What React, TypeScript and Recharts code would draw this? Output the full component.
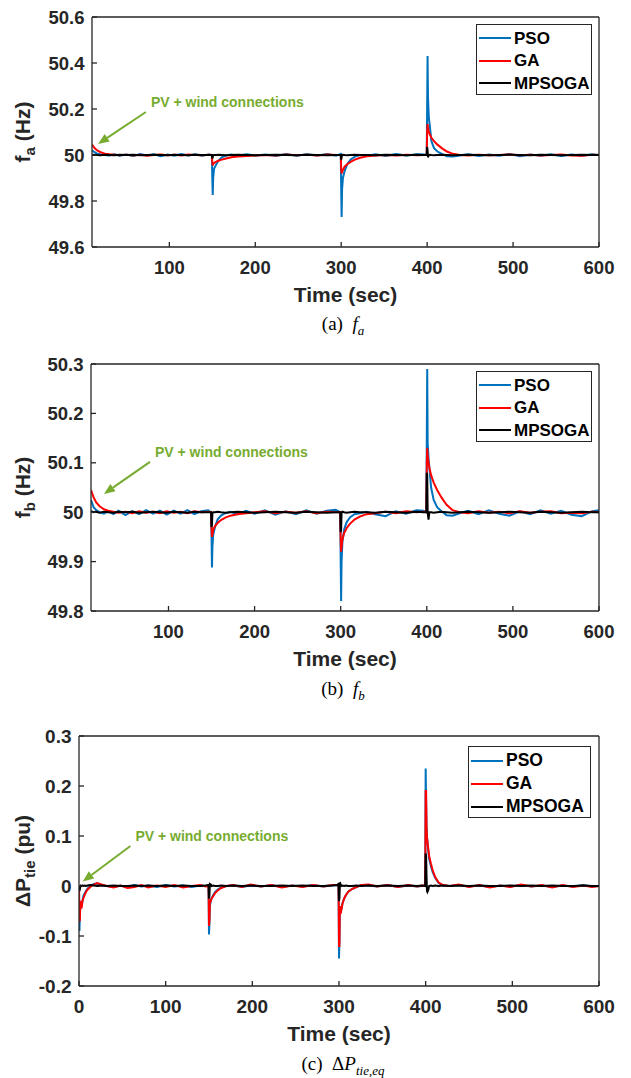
import React from "react";
import { LineChart, Line, XAxis, YAxis, Legend, ReferenceLine } from "recharts";

const BLUE = "#0072BD";
const RED = "#FF0000";
const BLACK = "#000000";
const GREEN = "#77AC30";
const INK = "#262626";

const SERIES = [
  { key: "pso", name: "PSO", color: BLUE },
  { key: "ga", name: "GA", color: RED },
  { key: "mp", name: "MPSOGA", color: BLACK },
];

// ---- panel (a) and (b): time grid shared by f_a and f_b ----
const TIME_AB = [
  10, 13, 16, 20, 25, 30, 36, 42,
  50, 58, 66, 74, 82, 90, 98,
  106, 114, 122, 130, 138, 146,
  149.5, 150, 150.5, 151, 152, 154, 157, 161, 166,
  172, 180, 190, 200, 212, 224, 236, 248, 260, 272, 284, 294,
  299.5, 300, 300.5, 301, 302, 304, 307, 311, 316, 322, 330,
  340, 352, 364, 376, 388, 396,
  399.5, 400, 400.5, 401, 402, 403, 405, 408, 412, 417, 423, 430, 438,
  448, 460, 472, 484, 496, 508, 520, 532, 544, 556, 568, 580, 592, 600,
];

const PSO_A = [
  50.02, 50.012, 50.006, 50.002, 50.0, 49.998, 50.003, 49.997,
  50.002, 49.996, 50.004, 49.998, 50.003, 49.995, 50.002,
  49.997, 50.004, 49.998, 50.003, 49.997, 50.002,
  50.0, 49.9, 49.826, 49.9, 49.94, 49.955, 49.975, 49.99, 49.998,
  50.002, 49.997, 50.003, 49.998, 50.002, 49.996, 50.004, 49.997, 50.003, 49.998, 50.004, 49.997,
  50.005, 49.85, 49.73, 49.85, 49.9, 49.93, 49.96, 49.98, 49.993, 50.0, 49.997,
  50.003, 49.996, 50.004, 49.998, 50.003, 50.002,
  50.0, 50.2, 50.43, 50.25, 50.16, 50.13, 50.06, 50.03, 50.015, 50.005, 49.995, 49.993, 49.998,
  50.003, 49.996, 50.002, 49.997, 50.004, 49.995, 50.002, 49.997, 50.003, 49.996, 50.002, 49.997, 50.003, 50.0,
];
const GA_A = [
  50.045, 50.03, 50.02, 50.012, 50.006, 50.003, 50.001, 49.999,
  50.001, 49.998, 50.001, 49.997, 50.0, 50.002, 49.999,
  50.001, 49.998, 50.002, 50.0, 49.999, 50.001,
  50.0, 49.97, 49.955, 49.96, 49.965, 49.97, 49.975, 49.98, 49.985,
  49.99, 49.993, 49.996, 49.998, 50.0, 49.998, 50.002, 49.999, 50.001, 49.998, 50.002, 50.0,
  50.0, 49.94, 49.92, 49.925, 49.935, 49.95, 49.96, 49.97, 49.98, 49.988, 49.994,
  49.998, 50.0, 49.998, 50.001, 49.999, 50.0,
  50.0, 50.1, 50.135, 50.12, 50.1, 50.09, 50.075, 50.06, 50.045, 50.03, 50.015, 50.005, 50.0,
  49.998, 50.001, 49.999, 50.0, 50.002, 49.999, 50.001, 49.998, 50.0, 50.002, 49.998, 49.997, 50.001, 50.0,
];
const MPSOGA_A = [
  50.0, 50.001, 50.0, 49.999, 50.001, 50.0, 49.999, 50.001,
  50.0, 50.001, 49.999, 50.0, 50.001, 50.0, 49.999,
  50.001, 50.0, 49.999, 50.001, 50.0, 50.0,
  50.0, 49.985, 49.99, 49.998, 50.0, 50.0, 50.001, 50.0, 49.999,
  50.0, 50.001, 50.0, 49.999, 50.0, 50.001, 50.0, 49.999, 50.001, 50.0, 49.999, 50.0,
  50.0, 49.98, 49.99, 50.0, 50.001, 50.0, 49.999, 50.0, 50.001, 50.0, 50.0,
  49.999, 50.001, 50.0, 49.999, 50.001, 50.0,
  50.0, 50.035, 50.02, 49.99, 50.0, 50.001, 50.0, 49.999, 50.0, 50.001, 50.0, 49.999, 50.0,
  50.001, 50.0, 49.999, 50.0, 50.001, 50.0, 49.999, 50.001, 50.0, 49.999, 50.0, 50.001, 50.0, 50.0,
];

const PSO_B = [
  50.025, 50.01, 50.004, 50.0, 49.997, 50.002, 49.996, 50.003,
  49.994, 50.002, 49.996, 50.004, 49.997, 50.003, 49.995,
  50.003, 49.997, 50.004, 49.996, 50.002, 50.004,
  50.0, 49.95, 49.888, 49.93, 49.955, 49.97, 49.985, 49.993, 49.998,
  50.001, 49.996, 50.003, 49.997, 50.004, 49.995, 50.002, 49.996, 50.004, 49.997, 50.003, 50.005,
  50.0, 49.9, 49.82, 49.9, 49.94, 49.965, 49.98, 49.99, 49.996, 49.998, 50.001,
  49.996, 49.992, 50.002, 49.997, 50.004, 50.003,
  50.0, 50.15, 50.29, 50.14, 50.11, 50.09, 50.05, 50.025, 50.01, 50.002, 49.994, 49.993, 49.998,
  50.003, 49.996, 50.004, 49.997, 49.993, 50.002, 49.996, 50.004, 49.997, 50.003, 49.995, 49.992, 50.002, 50.004,
];
const GA_B = [
  50.045, 50.03, 50.02, 50.012, 50.006, 50.003, 50.001, 49.999,
  50.001, 49.998, 50.002, 49.999, 50.001, 49.998, 50.002,
  49.999, 50.001, 49.998, 50.002, 50.0, 50.001,
  50.0, 49.97, 49.95, 49.955, 49.965, 49.972, 49.978, 49.984, 49.989,
  49.993, 49.996, 49.998, 50.0, 50.002, 49.998, 50.001, 49.999, 50.002, 49.998, 50.001, 50.0,
  50.0, 49.94, 49.92, 49.93, 49.945, 49.958, 49.968, 49.977, 49.985, 49.991, 49.996,
  49.998, 50.001, 49.998, 50.002, 50.0, 50.001,
  50.0, 50.1, 50.13, 50.115, 50.1, 50.09, 50.075, 50.06, 50.045, 50.03, 50.015, 50.004, 50.0,
  49.998, 50.002, 49.999, 50.001, 49.998, 50.002, 49.999, 50.001, 50.002, 49.998, 49.999, 49.998, 50.001, 50.0,
];
const MPSOGA_B = [
  50.002, 50.0, 50.001, 49.999, 50.001, 50.0, 49.999, 50.001,
  50.0, 50.001, 49.999, 50.0, 50.001, 50.0, 49.999,
  50.001, 50.0, 49.999, 50.001, 50.0, 50.0,
  50.0, 49.97, 49.975, 49.998, 50.0, 50.0, 50.001, 50.0, 49.999,
  50.0, 50.001, 50.0, 49.999, 50.0, 50.001, 50.0, 49.999, 50.001, 50.0, 49.999, 50.0,
  50.0, 49.96, 49.965, 49.999, 50.001, 50.0, 49.999, 50.0, 50.001, 50.0, 50.0,
  49.999, 50.001, 50.0, 49.999, 50.001, 50.0,
  50.0, 50.08, 50.075, 50.0, 49.985, 50.0, 50.0, 49.999, 50.0, 50.001, 50.0, 49.999, 50.0,
  50.001, 50.0, 49.999, 50.0, 50.001, 50.0, 49.999, 50.001, 50.0, 49.999, 50.0, 50.001, 50.0, 50.0,
];

// ---- panel (c): tie-line power ----
const TIME_C = [
  0, 0.5, 1, 1.5, 2, 3, 4, 5, 6.5, 8, 10,
  13, 17, 21, 26, 32, 40, 48, 56, 64, 72, 80, 90, 100, 110, 120, 130, 140, 146,
  149.5, 150, 150.5, 151, 152, 153, 155, 157, 160, 164, 170,
  178, 188, 198, 210, 222, 234, 246, 258, 270, 282, 292, 298,
  299.5, 300, 300.5, 301, 301.5, 302, 303, 304, 306, 308, 311, 315, 320, 326, 334,
  344, 356, 368, 380, 390, 396,
  399.5, 400, 400.5, 401, 401.5, 402, 403, 404, 406, 408, 411, 415, 420, 428,
  438, 450, 462, 474, 486, 498, 510, 522, 534, 546, 558, 570, 582, 592, 600,
];
const PSO_C = [
  0, -0.09, -0.06, -0.04, -0.03, -0.04, -0.03, -0.02, -0.015, -0.01, -0.005,
  0.0, 0.004, 0.005, 0.002, 0.0, -0.002, 0.001, -0.002, 0.002, -0.001, 0.001, -0.002, 0.002, -0.001, 0.001, -0.002, 0.001, 0.0,
  0.0, -0.097, -0.075, -0.04, -0.03, -0.025, -0.018, -0.012, -0.007, -0.003, 0.0,
  0.001, -0.002, 0.001, -0.001, 0.002, -0.002, 0.001, -0.001, 0.002, -0.001, 0.001, 0.002,
  0.004, -0.145, -0.11, -0.05, -0.04, -0.05, -0.045, -0.035, -0.025, -0.018, -0.011, -0.006, -0.002, 0.002, 0.001,
  -0.001, 0.002, -0.002, 0.001, -0.001, 0.0,
  0.0, 0.235, 0.17, 0.12, 0.1, 0.09, 0.07, 0.055, 0.04, 0.028, 0.016, 0.006, 0.001, 0.0,
  0.002, -0.001, 0.001, -0.002, 0.001, -0.001, 0.002, -0.001, 0.001, -0.002, 0.001, -0.001, 0.002, -0.001, 0.0,
];
const GA_C = [
  0, -0.07, -0.068, -0.03, -0.035, -0.045, -0.03, -0.025, -0.018, -0.012, -0.007,
  -0.002, 0.003, 0.006, 0.003, 0.0, -0.003, 0.001, -0.004, -0.002, 0.002, -0.003, 0.001, -0.002, 0.002, -0.003, 0.0, 0.002, -0.001,
  0.0, -0.08, -0.07, -0.035, -0.03, -0.025, -0.02, -0.014, -0.009, -0.004, 0.0,
  0.002, -0.002, 0.003, -0.001, 0.002, -0.003, 0.001, -0.002, 0.002, -0.001, 0.002, 0.002,
  0.003, -0.12, -0.12, -0.04, -0.05, -0.055, -0.045, -0.035, -0.025, -0.018, -0.011, -0.006, -0.002, 0.002, 0.003,
  -0.001, 0.002, -0.002, 0.002, -0.001, 0.001,
  0.0, 0.19, 0.19, 0.12, 0.095, 0.09, 0.075, 0.06, 0.045, 0.032, 0.018, 0.007, 0.002, 0.0,
  0.003, -0.002, 0.002, -0.003, 0.001, -0.002, 0.003, -0.001, 0.002, -0.003, 0.002, -0.002, 0.001, -0.002, 0.0,
];
const MPSOGA_C = [
  0, -0.01, -0.006, 0.0, 0.001, 0.0, 0.001, 0.0, 0.001, 0.0, 0.001,
  0.002, 0.001, 0.0, 0.001, 0.0, 0.001, 0.0, 0.0, 0.001, 0.0, 0.001, 0.0, 0.001, 0.0, 0.001, 0.0, 0.0, 0.001,
  0.002, -0.025, -0.02, 0.004, 0.003, 0.0, 0.001, 0.0, 0.0, 0.001, 0.0,
  0.001, 0.0, 0.001, 0.0, 0.0, 0.001, 0.0, 0.001, 0.0, 0.0, 0.001, 0.002,
  0.004, -0.03, -0.025, 0.004, 0.005, 0.002, 0.0, 0.001, 0.0, 0.001, 0.0, 0.0, 0.001, 0.0, 0.001,
  0.0, 0.001, 0.0, 0.001, 0.0, 0.001,
  0.0, 0.065, 0.06, 0.02, -0.01, -0.012, -0.008, 0.0, 0.001, 0.0, 0.001, 0.0, 0.001, 0.0,
  0.001, 0.0, 0.001, 0.0, 0.0, 0.001, 0.0, 0.001, 0.0, 0.001, 0.0, 0.0, 0.001, 0.0, 0.0,
];

const X_TICKS_AB = [100, 200, 300, 400, 500, 600];
const X_TICKS_C = [0, 100, 200, 300, 400, 500, 600];
const Y_TICKS_A = [49.6, 49.8, 50, 50.2, 50.4, 50.6];
const Y_TICKS_B = [49.8, 49.9, 50, 50.1, 50.2, 50.3];
const Y_TICKS_C = [-0.2, -0.1, 0, 0.1, 0.2, 0.3];

// annotation arrows: [tail, tip] in data units
const NOTE_A = [[72.7, 50.187], [17, 50.048]];
const NOTE_B = [[78.5, 50.102], [25, 50.037]];
const NOTE_C = [[59.3, 0.08], [4.3, 0.009]];
const NOTE_TEXT = "PV + wind connections";

const buildRows = (t: number[], pso: number[], ga: number[], mp: number[]) =>
  t.map((x, i) => ({ t: x, pso: pso[i], ga: ga[i], mp: mp[i] }));

const arrowShape = (p: any) => {
  const { x1, y1, x2, y2 } = p;
  const ang = Math.atan2(y2 - y1, x2 - x1);
  const L = 11;
  const W = 4.5;
  const bx = x2 - L * Math.cos(ang);
  const by = y2 - L * Math.sin(ang);
  const px = -Math.sin(ang) * W;
  const py = Math.cos(ang) * W;
  return (
    <g>
      <line x1={x1} y1={y1} x2={bx} y2={by} stroke={GREEN} strokeWidth={2} />
      <polygon points={`${x2},${y2} ${bx + px},${by + py} ${bx - px},${by - py}`} fill={GREEN} />
      <text x={x1 + 5} y={y1 - 5} fill={GREEN} fontSize={14} fontWeight={700}>
        {NOTE_TEXT}
      </text>
    </g>
  );
};

const timeLabel = (p: any) => {
  const vb = p.viewBox;
  return (
    <text x={vb.x + vb.width / 2} y={vb.y + 55} textAnchor="middle" fontSize={21} fontWeight={700} fill={INK}>
      Time (sec)
    </text>
  );
};

const yLabel = (main: string, sub: string, unit: string, bx: number) => (p: any) => {
  const vb = p.viewBox;
  const cy = vb.y + vb.height / 2;
  return (
    <text
      x={bx}
      y={cy}
      transform={`rotate(-90, ${bx}, ${cy})`}
      textAnchor="middle"
      fontSize={21}
      fontWeight={700}
      fill={INK}
    >
      {main}
      <tspan dy={5} fontSize={15}>{sub}</tspan>
      <tspan dy={-5}>{` ${unit}`}</tspan>
    </text>
  );
};

function LegendBox({ width, height, rowH, fontSize }: any) {
  return (
    <div
      style={{
        width,
        height,
        boxSizing: "border-box",
        border: `1.5px solid ${INK}`,
        background: "#fff",
        paddingTop: 2,
      }}
    >
      {SERIES.map((s) => (
        <div key={s.key} style={{ display: "flex", alignItems: "center", height: rowH }}>
          <svg width={34} height={4} style={{ marginLeft: 2 }}>
            <line x1={0} y1={2} x2={32} y2={2} stroke={s.color} strokeWidth={2} />
          </svg>
          <span style={{ fontSize, fontWeight: 700, color: "#000", marginLeft: 1, lineHeight: 1 }}>{s.name}</span>
        </div>
      ))}
    </div>
  );
}

function Panel(props: any) {
  const { top, height, plotLeft, xDomain, xTicks, yDomain, yTicks, rows, label, note, legend, tickFont } = props;
  const tickStyle = { fontSize: tickFont, fontWeight: 700, fill: INK };
  const lineStyle = { stroke: INK, strokeWidth: 1.3 };
  return (
    <div style={{ position: "absolute", left: 0, top }}>
      <LineChart width={631} height={height} data={rows} margin={{ top: 16, right: 31, bottom: 0, left: 0 }}>
        <XAxis
          dataKey="t"
          type="number"
          domain={xDomain}
          ticks={xTicks}
          interval={0}
          allowDataOverflow
          height={65}
          tickSize={-5}
          tickMargin={19}
          tick={tickStyle}
          axisLine={lineStyle}
          tickLine={lineStyle}
          label={timeLabel}
        />
        <XAxis
          xAxisId="top"
          orientation="top"
          dataKey="t"
          type="number"
          domain={xDomain}
          ticks={xTicks}
          interval={0}
          allowDataOverflow
          height={1}
          tickSize={-5}
          tick={false}
          axisLine={lineStyle}
          tickLine={lineStyle}
        />
        <YAxis
          type="number"
          domain={yDomain}
          ticks={yTicks}
          interval={0}
          allowDataOverflow
          width={plotLeft}
          tickSize={-5}
          tickMargin={12.5}
          tick={tickStyle}
          axisLine={lineStyle}
          tickLine={lineStyle}
          label={label}
        />
        <YAxis
          yAxisId="right"
          orientation="right"
          type="number"
          domain={yDomain}
          ticks={yTicks}
          interval={0}
          allowDataOverflow
          width={1}
          tickSize={-5}
          tick={false}
          axisLine={lineStyle}
          tickLine={lineStyle}
        />
        {SERIES.map((s) => (
          <Line
            key={s.key}
            type="linear"
            dataKey={s.key}
            name={s.name}
            stroke={s.color}
            strokeWidth={2}
            dot={false}
            isAnimationActive={false}
          />
        ))}
        <ReferenceLine
          segment={[
            { x: note[0][0], y: note[0][1] },
            { x: note[1][0], y: note[1][1] },
          ]}
          ifOverflow="visible"
          shape={arrowShape}
        />
        <Legend
          layout="vertical"
          align="center"
          verticalAlign="middle"
          wrapperStyle={{ top: legend.top, left: legend.left, width: legend.width, height: legend.height }}
          content={() => <LegendBox {...legend} />}
        />
      </LineChart>
    </div>
  );
}

function Caption({ y, children }: any) {
  return (
    <div
      style={{
        position: "absolute",
        left: 343,
        top: y - 12,
        transform: "translateX(-50%)",
        fontFamily: "'Liberation Serif', serif",
        fontSize: 19,
        whiteSpace: "nowrap",
        color: "#000",
      }}
    >
      {children}
    </div>
  );
}

export default function App() {
  const rowsA = buildRows(TIME_AB, PSO_A, GA_A, MPSOGA_A);
  const rowsB = buildRows(TIME_AB, PSO_B, GA_B, MPSOGA_B);
  const rowsC = buildRows(TIME_C, PSO_C, GA_C, MPSOGA_C);
  return (
    <div
      style={{
        position: "absolute",
        left: 0,
        top: 0,
        width: 631,
        height: 1078,
        background: "#fff",
        fontFamily: "'Liberation Sans', Arial, sans-serif",
      }}
    >
      <Panel
        top={0}
        height={312}
        plotLeft={92}
        xDomain={[10, 600]}
        xTicks={X_TICKS_AB}
        yDomain={[49.6, 50.6]}
        yTicks={Y_TICKS_A}
        rows={rowsA}
        tickFont={18.5}
        label={yLabel("f", "a", "(Hz)", 30)}
        note={NOTE_A}
        legend={{ top: 24, left: 476, width: 116, height: 71, rowH: 22.5, fontSize: 17 }}
      />
      <Caption y={325}>
        (a)&nbsp;&nbsp;<i>f</i>
        <sub style={{ fontSize: 13 }}>
          <i>a</i>
        </sub>
      </Caption>

      <Panel
        top={347}
        height={329}
        plotLeft={91}
        xDomain={[10, 600]}
        xTicks={X_TICKS_AB}
        yDomain={[49.8, 50.3]}
        yTicks={Y_TICKS_B}
        rows={rowsB}
        tickFont={18.5}
        label={yLabel("f", "b", "(Hz)", 30)}
        note={NOTE_B}
        legend={{ top: 24, left: 476, width: 116, height: 71, rowH: 22.5, fontSize: 17 }}
      />
      <Caption y={690}>
        (b)&nbsp;&nbsp;<i>f</i>
        <sub style={{ fontSize: 13 }}>
          <i>b</i>
        </sub>
      </Caption>

      <Panel
        top={719}
        height={332}
        plotLeft={79}
        xDomain={[0, 600]}
        xTicks={X_TICKS_C}
        yDomain={[-0.2, 0.3]}
        yTicks={Y_TICKS_C}
        rows={rowsC}
        tickFont={19}
        label={yLabel("\u0394P", "tie", "(pu)", 30)}
        note={NOTE_C}
        legend={{ top: 27, left: 468, width: 123, height: 72, rowH: 23.3, fontSize: 17.5 }}
      />
      <Caption y={1065}>
        (c)&nbsp;&nbsp;Δ<i>P</i>
        <sub style={{ fontSize: 13 }}>
          <i>tie,eq</i>
        </sub>
      </Caption>
    </div>
  );
}
